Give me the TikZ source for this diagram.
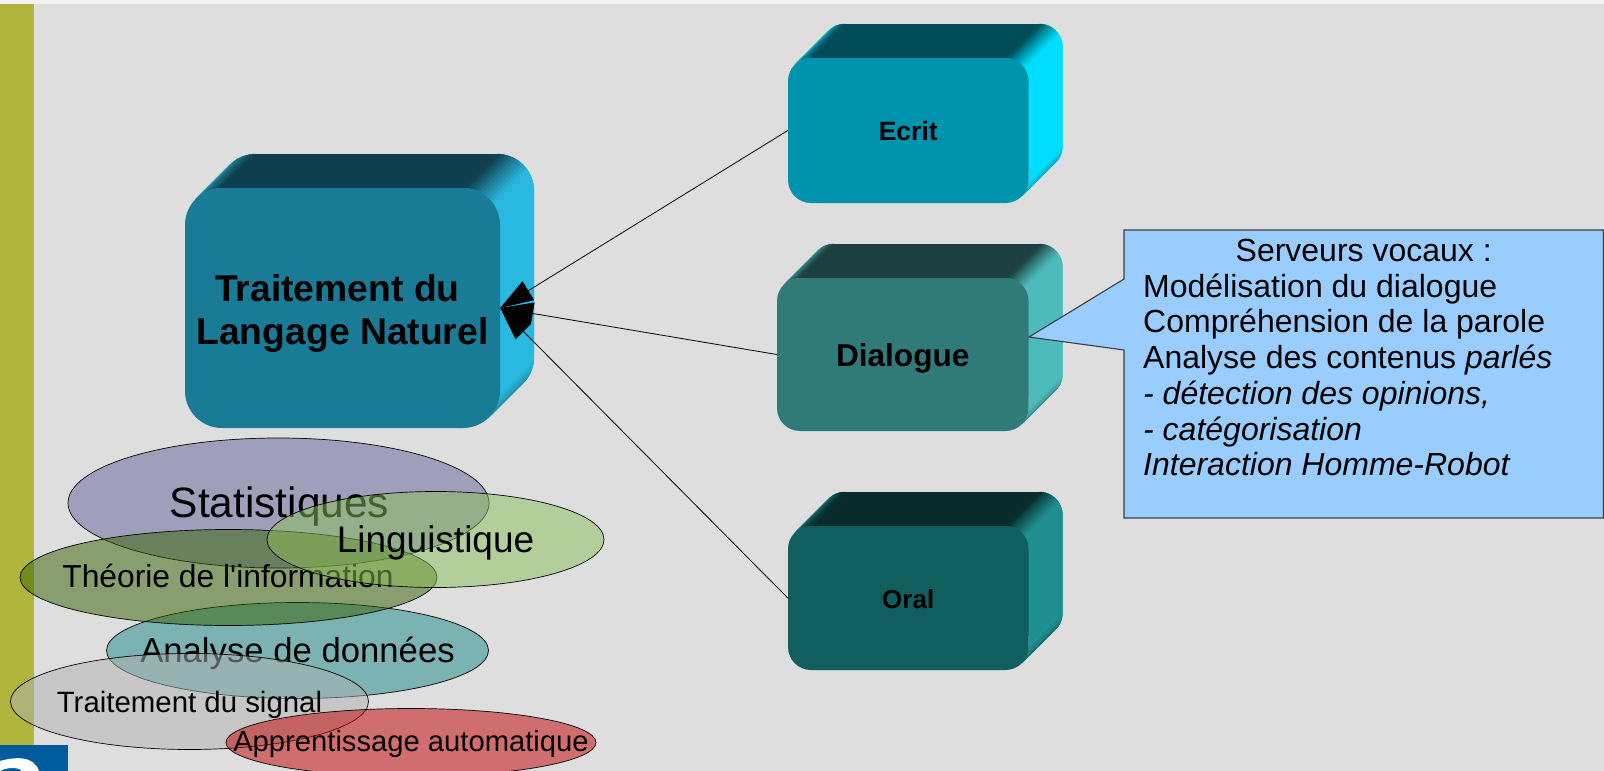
\documentclass[tikz,border=0pt]{standalone}
\usepackage{fontspec}
\setmainfont[Ligatures=TeXOff]{Liberation Sans}
\usetikzlibrary{shapes.geometric,arrows.meta}
\definecolor{pagebg}{HTML}{DEDEDE}
\definecolor{stripe}{HTML}{F2F2F2}
\definecolor{sidebar}{HTML}{AFB53A}
\definecolor{logoblue}{HTML}{005B9C}
\definecolor{bigfront}{HTML}{1A7B96}
\definecolor{bigtop}{HTML}{0F3F4C}
\definecolor{bigside}{HTML}{29B9E0}
\definecolor{ecritfront}{HTML}{0093AE}
\definecolor{ecrittop}{HTML}{004C58}
\definecolor{ecritside}{HTML}{00DDFF}
\definecolor{dialfront}{HTML}{317A7A}
\definecolor{dialtop}{HTML}{1C3F3F}
\definecolor{dialside}{HTML}{4EBBBB}
\definecolor{oralfront}{HTML}{105E5E}
\definecolor{oraltop}{HTML}{082C2C}
\definecolor{oralside}{HTML}{1F8F8F}
\definecolor{notefill}{HTML}{99CCFF}
\definecolor{noteline}{HTML}{3A3F45}
\definecolor{anafill}{RGB}{26,138,138}
\definecolor{statfill}{RGB}{98,98,156}
\definecolor{theofill}{RGB}{54,96,0}
\definecolor{lingfill}{RGB}{140,192,90}
\definecolor{traitfill}{RGB}{178,178,178}
\definecolor{appfill}{RGB}{196,0,2}
\newcommand{\fs}[1]{\fontsize{#1}{#1}\selectfont}
\tikzset{
  blob/.style={ellipse,draw=black,line width=0.7pt,fill opacity=.5,inner sep=0pt},
  blobtext/.style={inner sep=0pt,text=black,anchor=base},
  link/.style={draw=black,line width=0.8pt,-{Triangle[length=33pt,width=22pt]}},
}
% name, x0,y0,x1,y1, radius, colour stem, font size, text
\newcommand{\cubeshape}[9]{%
  \def\xa{#2}\def\ya{#3}\def\xb{#4}\def\yb{#5}\def\rr{#6}\def\dd{34}%
  \fill[#7side,rounded corners=#6pt] (\xa+\dd,\ya-\dd) rectangle (\xb+\dd,\yb-\dd);
  \fill[#7side] (\xb,\ya+\rr) -- (\xb,\yb-\rr) -- (\xb+\dd,\yb-\rr-\dd) -- (\xb+\dd,\ya+\rr-\dd) -- cycle;
  \fill[#7top] (\xa+\rr,\ya) -- (\xb-\rr,\ya) -- (\xb-\rr+\dd,\ya-\dd) -- (\xa+\rr+\dd,\ya-\dd) -- cycle;
  % top-left corner
  \foreach \a in {90,95,...,130}{%
    \pgfmathsetmacro{\mixv}{max(0,100-(\a-90)*1.6)}%
    \colorlet{fanc}{#7top!\mixv!#7side}%
    \path[fill=fanc,draw=fanc,line width=.3pt]
      ({\xa+\rr+\rr*cos(\a)},{\ya+\rr-\rr*sin(\a)}) -- ({\xa+\rr+\rr*cos(\a+5)},{\ya+\rr-\rr*sin(\a+5)})
      -- ({\xa+\rr+\dd+\rr*cos(\a+5)},{\ya+\rr-\dd-\rr*sin(\a+5)}) -- ({\xa+\rr+\dd+\rr*cos(\a)},{\ya+\rr-\dd-\rr*sin(\a)}) -- cycle;
  }
  % top-right corner
  \foreach \a in {0,5,...,85}{%
    \pgfmathsetmacro{\mixv}{min(100,max(0,(\a-32)*100/53))}%
    \colorlet{fanc}{#7top!\mixv!#7side}%
    \path[fill=fanc,draw=fanc,line width=.3pt]
      ({\xb-\rr+\rr*cos(\a)},{\ya+\rr-\rr*sin(\a)}) -- ({\xb-\rr+\rr*cos(\a+5)},{\ya+\rr-\rr*sin(\a+5)})
      -- ({\xb-\rr+\dd+\rr*cos(\a+5)},{\ya+\rr-\dd-\rr*sin(\a+5)}) -- ({\xb-\rr+\dd+\rr*cos(\a)},{\ya+\rr-\dd-\rr*sin(\a)}) -- cycle;
  }
  % bottom-right corner
  \foreach \a in {0,5,...,40}{%
    \pgfmathsetmacro{\mixv}{100-\a*0.6}%
    \colorlet{fanc}{#7side!\mixv!black}%
    \path[fill=fanc,draw=fanc,line width=.3pt]
      ({\xb-\rr+\rr*cos(\a)},{\yb-\rr+\rr*sin(\a)}) -- ({\xb-\rr+\rr*cos(\a+5)},{\yb-\rr+\rr*sin(\a+5)})
      -- ({\xb-\rr+\dd+\rr*cos(\a+5)},{\yb-\rr-\dd+\rr*sin(\a+5)}) -- ({\xb-\rr+\dd+\rr*cos(\a)},{\yb-\rr-\dd+\rr*sin(\a)}) -- cycle;
  }
  \node[fill=#7front,rounded corners=#6pt,inner sep=0pt,align=center,
        minimum width={(#4-#2)*1pt},minimum height={(#5-#3)*1pt},text=black,
        font=\bfseries\fontsize{#8}{43.5}\selectfont] (#1) at ({(#2+#4)/2},{(#3+#5)/2}) {\spaceskip=0pt\xspaceskip=0pt #9};
}
\begin{document}
\begin{tikzpicture}[x=1pt,y=-1pt]
\useasboundingbox (0,0) rectangle (1604,771);
\fill[pagebg] (0,0) rectangle (1604,771);
\fill[stripe] (0,0) rectangle (1604,4);
\fill[sidebar] (0,4) rectangle (34,745);
\fill[logoblue] (0,745) rectangle (68,771);
\fill[white] (0,761) .. controls (14,757) and (34,755) .. (39,771) -- (22,771) .. controls (18,767) and (8,767) .. (0,771) -- cycle;

\cubeshape{ecrit}{788}{58}{1028.5}{203}{23}{ecrit}{26.5}{\rule{0pt}{20pt}Ecrit}
\cubeshape{oral}{788}{526}{1028.5}{670}{23}{oral}{26}{\rule{0pt}{22pt}Oral}
\cubeshape{dial}{777}{278}{1028.5}{431}{23}{dial}{31.6}{\rule{0pt}{31pt}Dialogue}
\cubeshape{big}{185}{188}{500}{428}{37}{big}{37.3}{\rule{0pt}{38pt}Traitement du\rule{10pt}{0pt}\\Langage Naturel}

\draw[link] (ecrit.west) -- (big.east);
\draw[link] (dial.west) -- (big.east);
\draw[link] (oral.west) -- (big.east);

% callout
\draw[fill=notefill,draw=noteline,line width=1.1pt,line join=miter]
  (1124,230) -- (1603.4,230) -- (1603.4,518) -- (1124,518) -- (1124,350) -- (1029,337) -- (1124,279) -- cycle;
\node[anchor=north west,inner sep=0pt,text width=441pt,align=left,text=black,
      font=\fontsize{32}{35.7}\selectfont] (note) at (1143,239)
  {\spaceskip=0pt\xspaceskip=0pt
   \makebox[\linewidth][c]{Serveurs vocaux :}\\
   Modélisation du dialogue\\
   Compréhension de la parole\\
   Analyse des contenus \textit{parlés}\\
   \textit{- détection des opinions,}\\
   \textit{- catégorisation}\\
   \textit{Interaction Homme-Robot}};

% ellipses
\node[blob,fill=anafill,minimum width=382pt,minimum height=96pt] (ana) at (297.5,650.5) {};
\node[blobtext] (anat) at (297.5,662.5) {\fs{34.7}Analyse de données};
\node[blob,fill=statfill,minimum width=421pt,minimum height=130pt] (stat) at (278.5,503) {};
\node[blobtext] (statt) at (279.5,517) {\fs{42.4}Statistiques};
\node[blob,fill=theofill,minimum width=417pt,minimum height=96pt] (theo) at (228.5,577.5) {};
\node[blobtext] (theot) at (228,587) {\fs{31.8}Théorie de l'information};
\node[blob,fill=lingfill,minimum width=337pt,minimum height=96pt] (ling) at (435.5,539.5) {};
\node[blobtext] (lingt) at (435.5,552) {\fs{37}Linguistique};
\node[blob,fill=traitfill,minimum width=358pt,minimum height=96pt] (trait) at (189.5,701.5) {};
\node[blobtext] (traitt) at (189.5,712) {\fs{29.4}Traitement du signal};
\node[blob,fill=appfill,minimum width=370pt,minimum height=68pt] (app) at (411,742.5) {};
\node[blobtext] (appt) at (411,751) {\fs{29.2}Apprentissage automatique};
\end{tikzpicture}
\end{document}
